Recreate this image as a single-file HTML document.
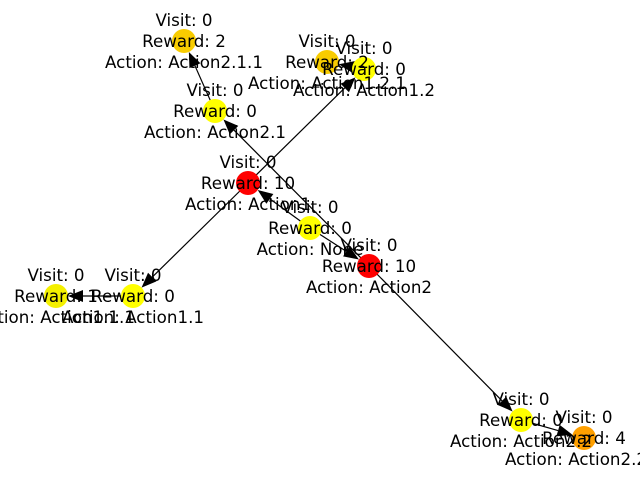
<!DOCTYPE html>
<html><head><meta charset="utf-8"><style>
html,body{margin:0;padding:0;background:#fff;width:640px;height:480px;overflow:hidden}
text{font-family:"DejaVu Sans","Liberation Sans",sans-serif;font-size:16.7px;fill:#000}
</style></head><body>
<svg id="s" width="640" height="480" xmlns="http://www.w3.org/2000/svg"></svg>
<script>
var N={
r:[310,228,'#ffff00','Visit: 0','Reward: 0','Action: None'],
a1:[248,183,'#ff0000','Visit: 0','Reward: 10','Action: Action1'],
a2:[369,266,'#ff0000','Visit: 0','Reward: 10','Action: Action2'],
a21:[215,111,'#ffff00','Visit: 0','Reward: 0','Action: Action2.1'],
a211:[184,41,'#f8cc00','Visit: 0','Reward: 2','Action: Action2.1.1'],
a121:[327,62,'#f8cc00','Visit: 0','Reward: 2','Action: Action1.2.1'],
a12:[364,69,'#ffff00','Visit: 0','Reward: 0','Action: Action1.2'],
a11:[133,296,'#ffff00','Visit: 0','Reward: 0','Action: Action1.1'],
a111:[56,296,'#f4f000','Visit: 0','Reward: 1','Action: Action1.1.1'],
a22:[521,420,'#ffff00','Visit: 0','Reward: 0','Action: Action2.2'],
a221:[584,438,'#ffa000','Visit: 0','Reward: 4','Action: Action2.2.1']};
var E=[['r','a1'],['r','a2'],['a1','a11'],['a1','a12'],['a11','a111'],['a12','a121'],['a2','a21'],['a2','a22'],['a21','a211'],['a22','a221']];
var h='';
E.forEach(function(e){var a=N[e[0]],b=N[e[1]];var dx=b[0]-a[0],dy=b[1]-a[1],L=Math.hypot(dx,dy),ux=dx/L,uy=dy/L;
var tx=b[0]-ux*12,ty=b[1]-uy*12,bx=tx-ux*15,by=ty-uy*15,px=-uy*6,py=ux*6;
h+='<line x1="'+a[0]+'" y1="'+a[1]+'" x2="'+bx+'" y2="'+by+'" stroke="#000" stroke-width="1.2"/>';
h+='<polygon points="'+tx+','+ty+' '+(bx+px)+','+(by+py)+' '+(bx-px)+','+(by-py)+'" fill="#000"/>';});
for(var k in N){var n=N[k];h+='<circle cx="'+n[0]+'" cy="'+n[1]+'" r="12" fill="'+n[2]+'"/>';}
for(var k in N){var n=N[k];for(var i=0;i<3;i++)h+='<text x="'+n[0]+'" y="'+(n[1]+6+(i-1)*21)+'" text-anchor="middle">'+n[3+i]+'</text>';}
document.getElementById('s').innerHTML=h;
</script>
</body></html>
